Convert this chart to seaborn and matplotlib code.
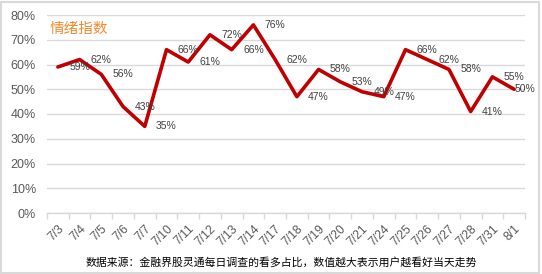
import matplotlib
matplotlib.use("Agg")
import matplotlib.pyplot as plt
import seaborn as sns
import pandas as pd
from matplotlib.patches import Rectangle
from matplotlib.ticker import FixedLocator

categories = ["7/3", "7/4", "7/5", "7/6", "7/7", "7/10", "7/11", "7/12", "7/13", "7/14",
              "7/17", "7/18", "7/19", "7/20", "7/21", "7/24", "7/25", "7/26", "7/27",
              "7/28", "7/31", "8/1"]
values = [59, 62, 56, 43, 35, 66, 61, 72, 66, 76, 62, 47, 58, 53, 49, 47, 66, 62, 58, 41, 55, 50]
yticks = [0, 10, 20, 30, 40, 50, 60, 70, 80]
title = "情绪指数"
footer = "数据来源：金融界股灵通每日调查的看多占比，数值越大表示用户越看好当天走势"

sns.set_theme(style="white")
plt.rcParams['font.family'] = ['Liberation Sans', 'Noto Sans CJK SC', 'DejaVu Sans']

df = pd.DataFrame({"date": categories, "value": values, "idx": range(len(categories))})

fig = plt.figure(figsize=(5.42, 2.74), dpi=100)
ax = fig.add_axes([47/542, 1 - 213/274, (525 - 47)/542, (213 - 15)/274])

sns.lineplot(data=df, x="idx", y="value", ax=ax, color="#C00000", linewidth=2.6, sort=False)

n = len(categories)
ax.set_xlim(-0.5, n - 0.5)
ax.set_ylim(0, 80)
ax.set_yticks(yticks)
ax.set_yticklabels([f"{v}%" for v in yticks], fontsize=9, color="#595959")
ax.yaxis.grid(True, color="#d9d9d9", linewidth=1)
ax.xaxis.grid(False)
ax.tick_params(axis="y", length=0, pad=8)

ax.set_xticks(range(n))
ax.set_xticklabels(categories, rotation=45, ha="right", va="top",
                   rotation_mode="anchor", fontsize=8.8, color="#595959")
ax.xaxis.set_minor_locator(FixedLocator([i - 0.5 for i in range(n + 1)]))
ax.tick_params(axis="x", which="major", length=0, pad=7)
ax.tick_params(axis="x", which="minor", length=4, color="#d9d9d9", width=1, bottom=True)
ax.set_xlabel("")
ax.set_ylabel("")

for s in ["left", "right", "top"]:
    ax.spines[s].set_visible(False)
ax.spines["bottom"].set_color("#d9d9d9")
ax.spines["bottom"].set_linewidth(1)

# data labels (offset one category to the right as in the original)
for i, v in enumerate(values):
    x = i + 1 if i + 1 < n else n - 0.5
    ax.text(x, v, f"{v}%", ha="center", va="center", fontsize=7.5, color="#404040",
            clip_on=False)

ax.text(0.005, 0.93, title, transform=ax.transAxes, fontsize=10.5, color="#F28A2E",
        ha="left", va="center", family=['Noto Sans CJK SC', 'DejaVu Sans'])

fig.text(281/542, 1 - 262/274, footer, ha="center", va="center", fontsize=7.8,
         color="black", family=['Noto Sans CJK SC', 'DejaVu Sans'])

fig.patches.append(Rectangle((0.002, 0.004), 0.993, 0.99, transform=fig.transFigure,
                             fill=False, edgecolor="#d9d9d9", linewidth=1.5))

fig.savefig("out.png", dpi=100)
